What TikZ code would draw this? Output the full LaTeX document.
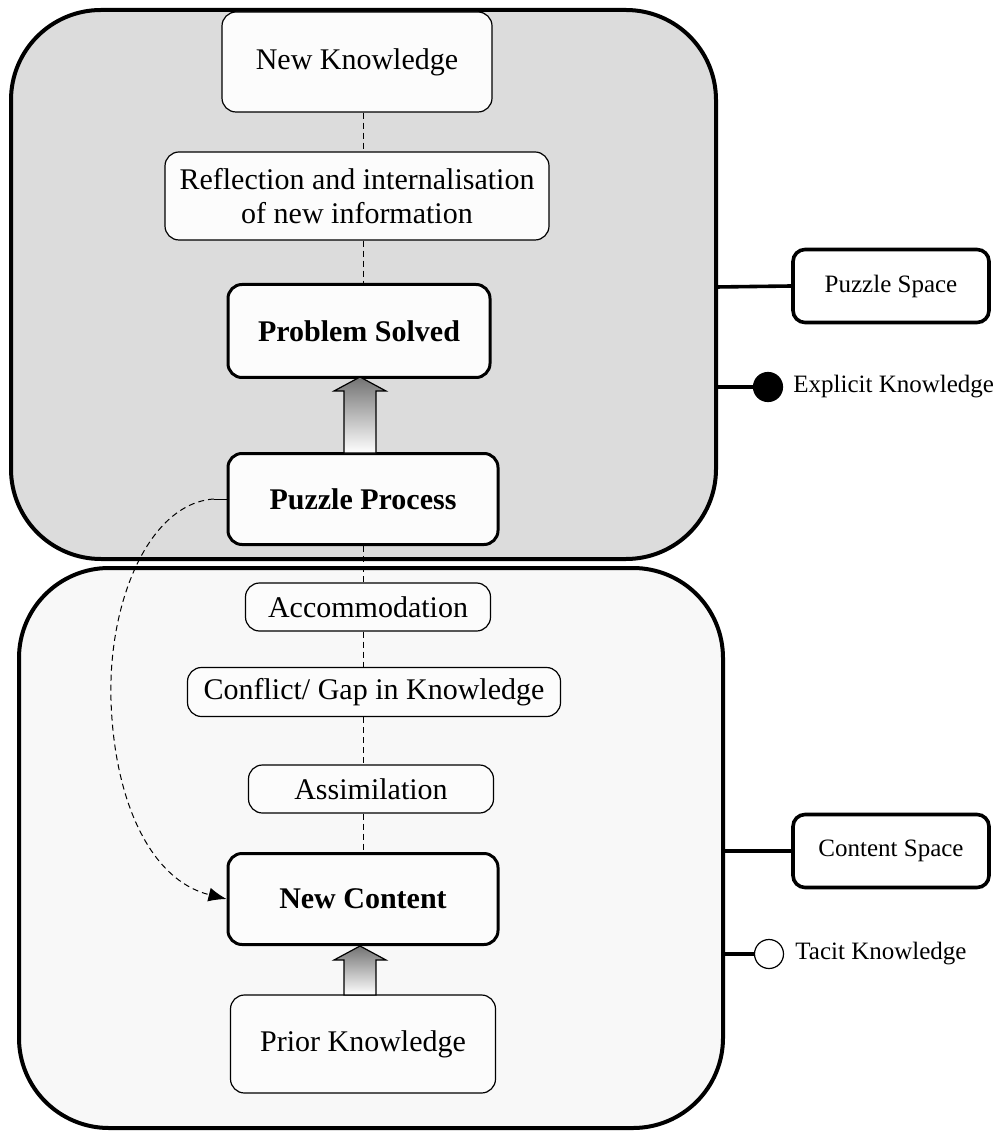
\documentclass[tikz,border=0pt]{standalone}
\usepackage{fontspec}
\setmainfont{Liberation Serif}
\usetikzlibrary{arrows.meta}
\definecolor{topfill}{HTML}{DCDCDC}
\definecolor{botfill}{HTML}{F8F8F8}
\definecolor{boxfill}{HTML}{FCFCFC}
\begin{document}
\begin{tikzpicture}[x=0.5pt,y=-0.5pt,
  thinbox/.style={draw, line width=0.6pt, rounded corners=7pt, fill=boxfill, inner sep=0pt, align=center, font=\fontsize{15pt}{17pt}\selectfont},
  thickbox/.style={draw, line width=1.5pt, rounded corners=7pt, fill=boxfill, inner sep=0pt, align=center, font=\fontsize{15pt}{17pt}\selectfont\bfseries},
  bigbox/.style={draw, line width=2pt, rounded corners=45pt},
  legbox/.style={draw, line width=1.8pt, rounded corners=6pt, fill=white, inner sep=0pt, font=\fontsize{12.5pt}{15pt}\selectfont},
  legline/.style={line width=1.8pt},
  dl/.style={dash pattern=on 3pt off 2pt, line width=0.5pt},
  blockarrow/.style={draw, line width=0.6pt, top color=black!55, bottom color=white},
  legtext/.style={anchor=west, inner sep=0pt, font=\fontsize{12.5pt}{15pt}\selectfont}
]
\useasboundingbox (0,0) rectangle (1000,1133);
% big regions
\draw[bigbox, fill=topfill] (11,10) rectangle (716,559);
\draw[bigbox, fill=botfill] (19,568) rectangle (723,1128);
% nodes
\node[thinbox, minimum width=135pt, minimum height=50pt] (NK) at (357,62) {New Knowledge};
\node[thinbox, minimum width=192pt, minimum height=44pt] (RF) at (357,196) {Reflection and internalisation\\of new information};
\node[thickbox, minimum width=131pt, minimum height=46.5pt] (PS) at (359,331) {Problem Solved};
\node[thickbox, minimum width=135pt, minimum height=45.5pt] (PP) at (363,499) {Puzzle Process};
\node[thinbox, minimum width=122.5pt, minimum height=24pt] (AC) at (368,607) {Accommodation};
\node[thinbox, minimum width=186.5pt, minimum height=24.5pt] (CG) at (374,692) {Conflict/ Gap in Knowledge};
\node[thinbox, minimum width=122.5pt, minimum height=24pt] (AS) at (371,789) {Assimilation};
\node[thickbox, minimum width=135pt, minimum height=45.5pt] (NC) at (363,899) {New Content};
\node[thinbox, minimum width=132.5pt, minimum height=49pt] (PK) at (363,1044) {Prior Knowledge};
% dashed spine
\coordinate (vx) at (363,0);
\draw[dl] (NK.south -| vx) -- (RF.north -| vx);
\draw[dl] (RF.south -| vx) -- (PS.north -| vx);
\draw[dl] (PP.south -| vx) -- (AC.north -| vx);
\draw[dl] (AC.south -| vx) -- (CG.north -| vx);
\draw[dl] (CG.south -| vx) -- (AS.north -| vx);
\draw[dl] (AS.south -| vx) -- (NC.north -| vx);
% block arrows
\shade[blockarrow] (344,453) -- (344,391) -- (334,391) -- (360,377) -- (386,391) -- (376,391) -- (376,453) -- cycle;
\shade[blockarrow] (344,995) -- (344,960) -- (334,960) -- (360,946) -- (386,960) -- (376,960) -- (376,995) -- cycle;
% dashed curve
\coordinate (cs) at (214,499);
\draw[line width=0.5pt] (PP.west) -- (cs);
\draw[dl, -{Latex[length=9pt,width=7pt]}] (cs) .. controls (150,503) and (108,600) .. (111,700) .. controls (114,800) and (150,880) .. (NC.west);
% legend
\node[legbox, minimum width=98pt, minimum height=36.5pt] (LP) at (891,286) {Puzzle Space};
\node[legbox, minimum width=98pt, minimum height=36.5pt] (LC) at (891,851) {Content Space};
\draw[legline] (716,287) -- (LP.west);
\draw[legline] (723,851) -- (LC.west);
\node[circle, draw, fill=black, line width=0.6pt, minimum size=14.5pt, inner sep=0pt] (EK) at (768,387) {};
\node[circle, draw, fill=white, line width=0.6pt, minimum size=14.5pt, inner sep=0pt] (TK) at (769,954) {};
\draw[legline] (716,387) -- (EK.west);
\draw[legline] (723,954) -- (TK.west);
\node[legtext] (EKt) at (793,387) {Explicit Knowledge};
\node[legtext] (TKt) at (795,954) {Tacit Knowledge};
\end{tikzpicture}
\end{document}
